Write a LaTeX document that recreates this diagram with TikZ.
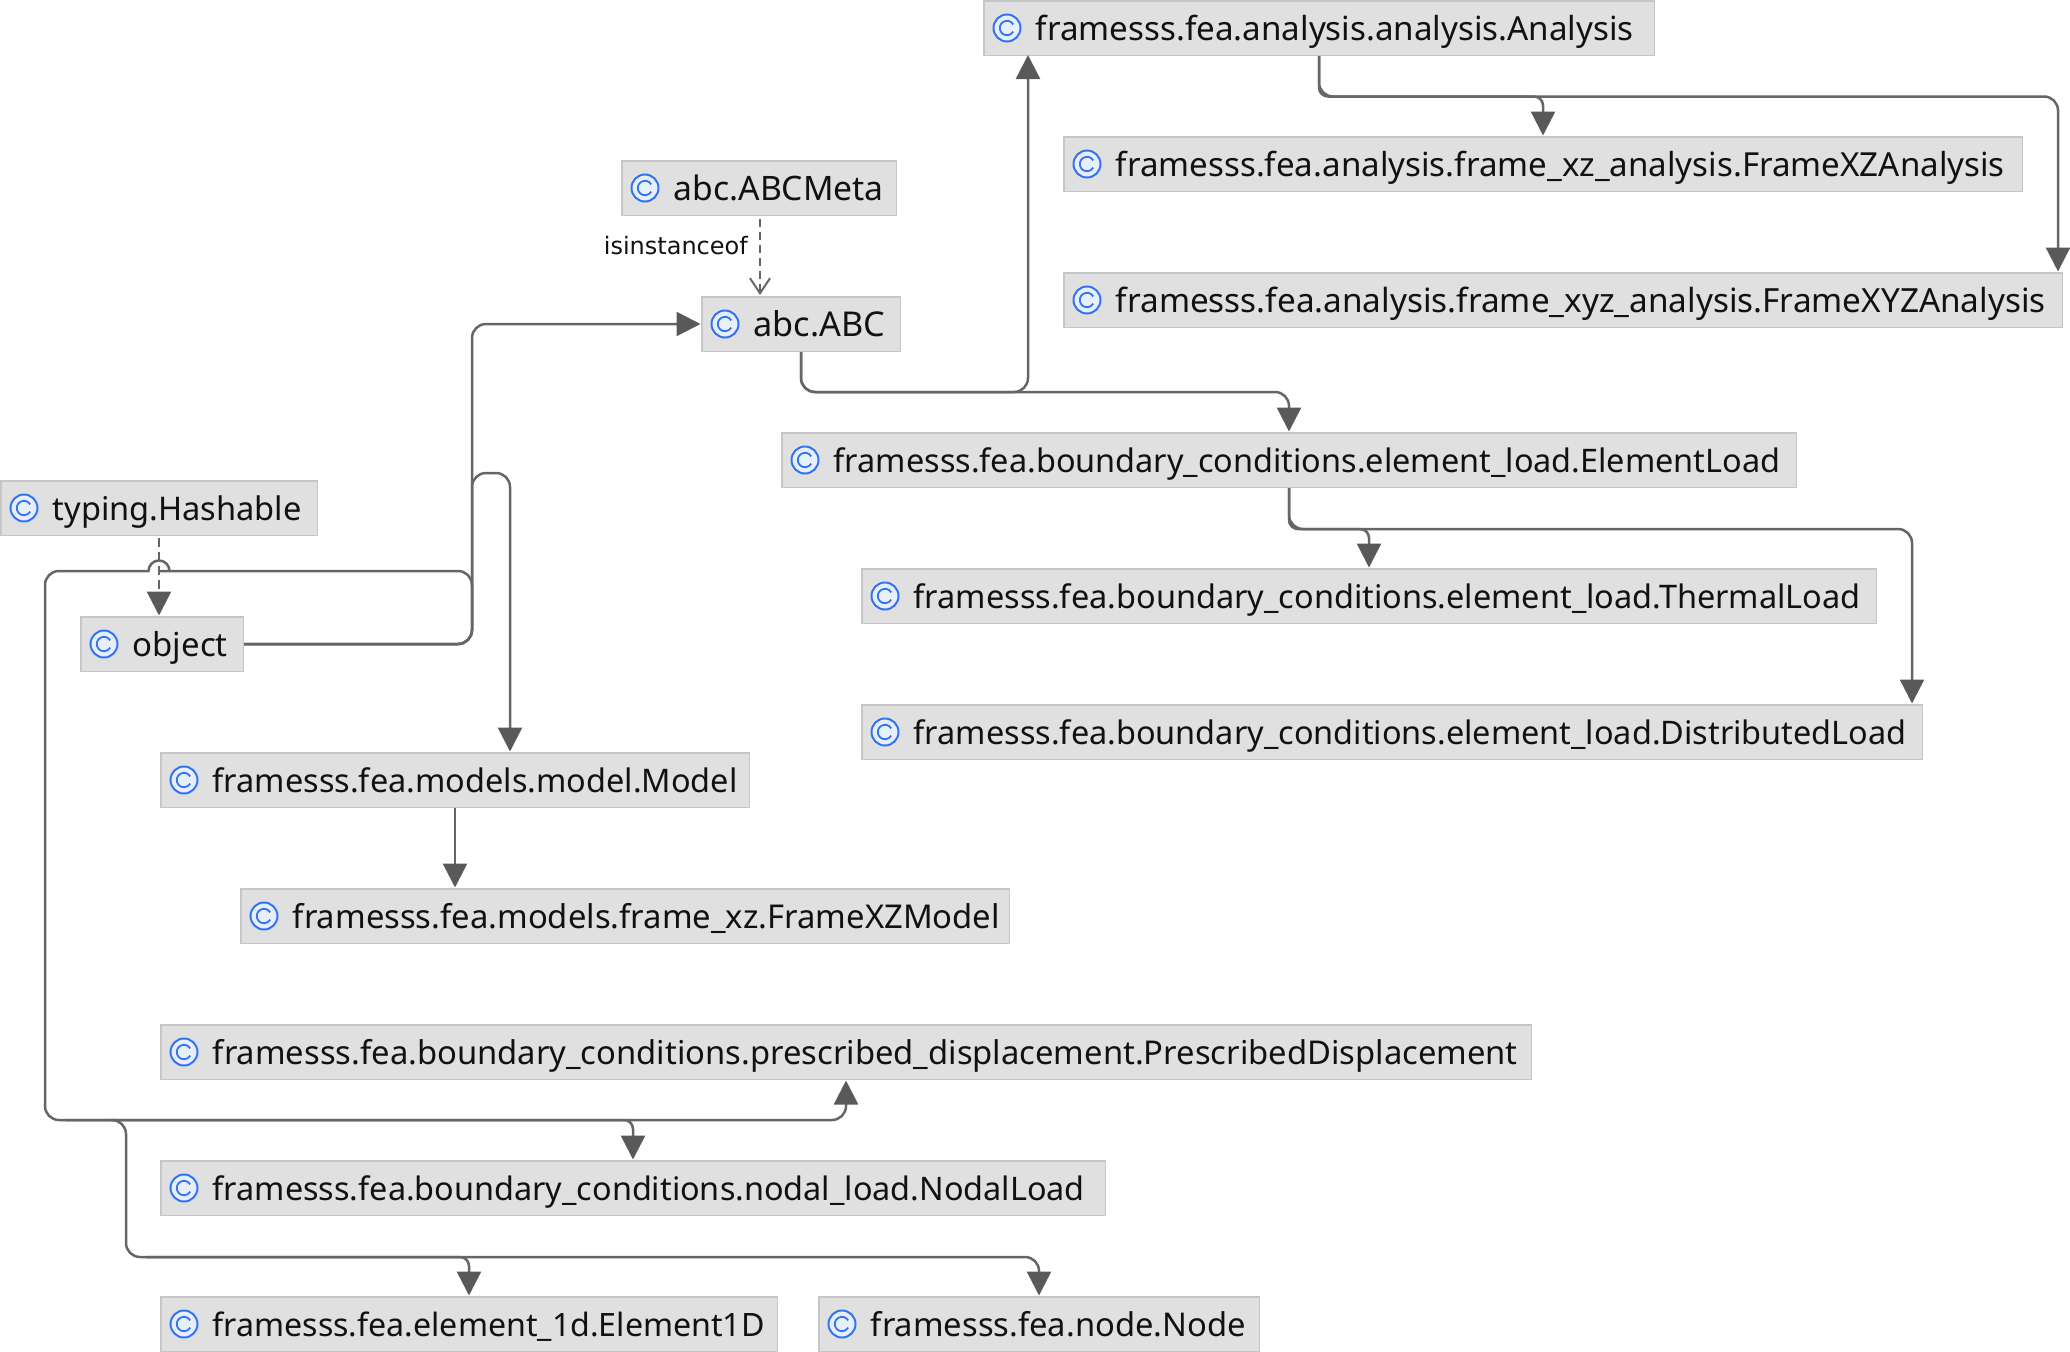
\documentclass[tikz,border=0pt]{standalone}
\usepackage{fontspec}
\usepackage{graphicx}
\usetikzlibrary{arrows.meta,calc}
\setmainfont{Noto Sans}
\newfontfamily\lblfont{DejaVu Sans}
\definecolor{boxfill}{HTML}{E0E0E0}
\definecolor{boxline}{HTML}{C6C6C6}
\definecolor{edgecol}{HTML}{666666}
\definecolor{tipcol}{HTML}{595959}
\definecolor{iconblue}{HTML}{3574F0}
\definecolor{iconfill}{HTML}{E7EFFD}
\definecolor{inkcol}{HTML}{111111}
\tikzset{
  clsbox/.style={draw=boxline,fill=boxfill,line width=1.5pt,inner sep=0pt,anchor=north west,
    text height=39.9pt,text depth=14.6pt,text=inkcol,font=\fontsize{32.6}{32.6}\selectfont},
  iconmark/.style={draw=iconblue,fill=iconfill,line width=2pt,circle,minimum size=27pt,inner sep=0pt},
  inherit/.style={draw=edgecol,line width=2.5pt,rounded corners=14pt,-{Triangle[length=24pt,width=24pt,color=tipcol]},shorten >=0.5pt},
  tight/.style={rounded corners=9pt},
  dashinherit/.style={draw=edgecol,line width=2.5pt,dash pattern=on 9pt off 5pt,-{Triangle[length=24pt,width=24pt,color=tipcol]},shorten >=0.5pt},
  instedge/.style={draw=edgecol,line width=2pt,dash pattern=on 8pt off 5pt,-{Straight Barb[length=15pt,width=20pt]},shorten >=1pt},
}
\newcommand{\clsnode}[6]{%
  \pgfmathsetmacro{\innerw}{#4-1.5}%
  \node[clsbox] (#1) at (#2,#3) {\makebox[\innerw pt][l]{\hspace{52pt}\resizebox{#5pt}{!}{#6}}};
  \node[iconmark] (#1-icon) at ($(#1.west)+(24,0)$) {};
  \draw[iconblue,line width=1.8pt] ($(#1-icon.center)+(6.2pt,3.6pt)$) arc[start angle=30,end angle=330,radius=7.2pt];
}
\begin{document}
\begin{tikzpicture}[x=1pt,y=-1pt]
\useasboundingbox (0,0) rectangle (2070,1352);
% connector guide coordinates
\coordinate (xana) at (1319,0);
\coordinate (xfxz) at (1543,0);
\coordinate (xfxyz) at (2058,0);
\coordinate (yana) at (0,96.5);
\coordinate (xabc) at (801,0);
\coordinate (xup) at (1028,0);
\coordinate (xel) at (1289,0);
\coordinate (yabc) at (0,392);
\coordinate (xthe) at (1369,0);
\coordinate (xdis) at (1912,0);
\coordinate (yel) at (0,529);
\coordinate (xtr) at (472,0);
\coordinate (ytop) at (0,473);
\coordinate (xmod) at (510,0);
\coordinate (yleft) at (0,571);
\coordinate (xleft) at (45,0);
\coordinate (ylow) at (0,1120);
\coordinate (xnod) at (633,0);
\coordinate (xpre) at (846,0);
\coordinate (xlow) at (126,0);
\coordinate (ybot) at (0,1257);
\coordinate (xe1) at (469,0);
\coordinate (xnn) at (1039,0);
\coordinate (xdash) at (159,0);
\coordinate (xinst) at (760,0);
\coordinate (xfxm) at (455,0);
% nodes
\clsnode{analysis}{983}{0}{672}{598}{framesss.fea.analysis.analysis.Analysis}
\clsnode{fxz}{1063}{136}{960}{889}{framesss.fea.analysis.frame\_xz\_analysis.FrameXZAnalysis}
\clsnode{fxyz}{1063}{272}{1000}{930}{framesss.fea.analysis.frame\_xyz\_analysis.FrameXYZAnalysis}
\clsnode{meta}{621}{160}{276}{210}{abc.ABCMeta}
\clsnode{abc}{701}{296}{200}{131.5}{abc.ABC}
\clsnode{elem}{781}{432}{1016}{946.6}{framesss.fea.boundary\_conditions.element\_load.ElementLoad}
\clsnode{therm}{861}{568}{1016}{947}{framesss.fea.boundary\_conditions.element\_load.ThermalLoad}
\clsnode{dist}{861}{704}{1062}{993}{framesss.fea.boundary\_conditions.element\_load.DistributedLoad}
\clsnode{hash}{0}{480}{318}{249}{typing.Hashable}
\clsnode{obj}{80}{616}{164}{95}{object}
\clsnode{model}{160}{752}{590}{524.7}{framesss.fea.models.model.Model}
\clsnode{fxm}{240}{888}{770}{707}{framesss.fea.models.frame\_xz.FrameXZModel}
\clsnode{pre}{160}{1024}{1372}{1305}{framesss.fea.boundary\_conditions.prescribed\_displacement.PrescribedDisplacement}
\clsnode{nod}{160}{1160}{946}{872}{framesss.fea.boundary\_conditions.nodal\_load.NodalLoad}
\clsnode{eone}{160}{1296}{618}{552}{framesss.fea.element\_1d.Element1D}
\clsnode{nn}{818}{1296}{442}{375}{framesss.fea.node.Node}
% connectors
\draw[inherit] (analysis.south -| xana) -- (xana |- yana) -- (xfxyz |- yana) -- (fxyz.north -| xfxyz);
\draw[inherit,tight] (analysis.south -| xana) -- (xana |- yana) -- (xfxz |- yana) -- (fxz.north -| xfxz);
\draw[inherit,shorten >=-1pt] (abc.south -| xabc) -- (xabc |- yabc) -- (xup |- yabc) -- (analysis.south -| xup);
\draw[inherit] (abc.south -| xabc) -- (xabc |- yabc) -- (xel |- yabc) -- (elem.north -| xel);
\draw[inherit] (elem.south -| xel) -- (xel |- yel) -- (xdis |- yel) -- (dist.north -| xdis);
\draw[inherit,tight] (elem.south -| xel) -- (xel |- yel) -- (xthe |- yel) -- (therm.north -| xthe);
\draw[instedge] (meta.south -| xinst) ++(0,3) -- (abc.north -| xinst);
\draw[dashinherit] (hash.south -| xdash) ++(0,2) -- (obj.north -| xdash);
\draw[inherit] (obj.east) -- (xtr |- obj.east) -- (xtr |- abc.west) -- (abc.west);
\draw[inherit] (obj.east) -- (xtr |- obj.east) -- (xtr |- ytop) -- (xmod |- ytop) -- (model.north -| xmod);
\draw[inherit] (model.south -| xfxm) -- (fxm.north -| xfxm);
\draw[inherit] (obj.east) -- (xtr |- obj.east) -- (xtr |- yleft) -- ($(xdash |- yleft)+(14,0)$) [sharp corners] -- ($(xdash |- yleft)+(10.5,0)$) arc[start angle=0,end angle=180,radius=10.5pt] -- ($(xdash |- yleft)+(-14,0)$) [rounded corners=14pt] -- (xleft |- yleft) -- (xleft |- ylow) -- (xpre |- ylow) -- (pre.south -| xpre);
\draw[inherit,tight] (xleft |- ylow) ++(20,0) -- (xnod |- ylow) -- (nod.north -| xnod);
\draw[inherit] (xlow |- ylow) ++(-15,0) -- ++(15,0) -- (xlow |- ybot) -- (xnn |- ybot) -- (nn.north -| xnn);
\draw[inherit,tight] (xlow |- ybot) ++(20,0) -- (xe1 |- ybot) -- (eone.north -| xe1);
% label
\node[anchor=base east,font=\lblfont\fontsize{24}{24}\selectfont,text=inkcol,inner sep=0pt] (instlabel) at (748,254) {isinstanceof};
\end{tikzpicture}
\end{document}
